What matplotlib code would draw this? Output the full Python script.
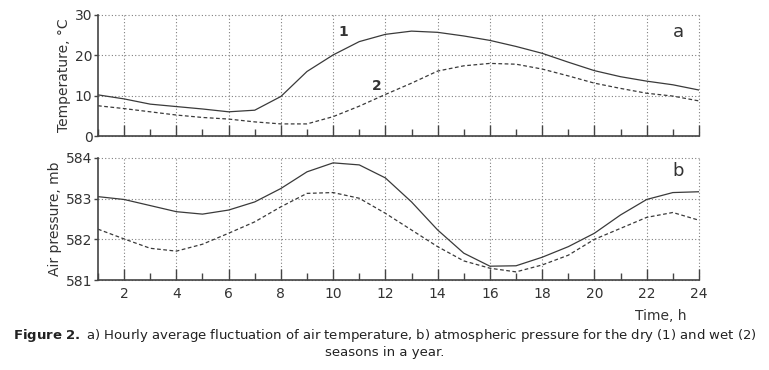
import matplotlib
matplotlib.use('Agg')
import matplotlib.pyplot as plt
import numpy as np

# hours of the day
hours = list(range(1, 25))

# air temperature, deg C
temp_dry = [10.2, 9.2, 7.9, 7.3, 6.7, 6.0, 6.4, 9.8, 16.0, 20.1, 23.4, 25.2,
            26.0, 25.7, 24.8, 23.7, 22.2, 20.5, 18.3, 16.2, 14.7, 13.6, 12.7, 11.4]
temp_wet = [7.5, 6.8, 6.0, 5.2, 4.6, 4.2, 3.5, 3.0, 3.0, 4.8, 7.4, 10.3,
            13.1, 16.1, 17.4, 18.0, 17.8, 16.6, 14.9, 13.1, 11.8, 10.6, 9.9, 8.7]

# air pressure, mb
pres_dry = [583.05, 582.98, 582.83, 582.68, 582.62, 582.72, 582.92, 583.25,
            583.66, 583.88, 583.83, 583.51, 582.92, 582.23, 581.66, 581.34,
            581.35, 581.56, 581.82, 582.15, 582.60, 582.98, 583.15, 583.17]
pres_wet = [582.25, 582.01, 581.78, 581.71, 581.88, 582.15, 582.43, 582.80,
            583.13, 583.15, 583.01, 582.64, 582.23, 581.82, 581.47, 581.29,
            581.20, 581.37, 581.61, 582.00, 582.27, 582.54, 582.66, 582.47]

major_x = list(range(2, 25, 2))
minor_x = list(range(1, 25, 2))

line_col = '#3a3a3a'
txt_col = '#333333'
plt.rcParams['font.family'] = ['DejaVu Sans']

fig = plt.figure(figsize=(7.69, 3.70), dpi=100)
ax1 = fig.add_axes([0.1274, 0.6324, 0.7815, 0.3271])
ax2 = fig.add_axes([0.1274, 0.2432, 0.7815, 0.3298])


def style(ax, labels):
    for s in ['top', 'right']:
        ax.spines[s].set_visible(False)
    for s in ['left', 'bottom']:
        ax.spines[s].set_color('#444444')
        ax.spines[s].set_linewidth(1.2)
    ax.set_xlim(1, 24)
    ax.set_xticks(major_x)
    ax.set_xticks(minor_x, minor=True)
    ax.tick_params(axis='x', which='major', direction='in', length=8,
                   width=1, color='#444444', labelsize=10, labelcolor=txt_col,
                   labelbottom=labels, pad=5)
    ax.tick_params(axis='x', which='minor', direction='in', length=5,
                   width=1, color='#444444')
    ax.tick_params(axis='y', direction='out', length=3, width=1,
                   color='#444444', labelsize=10, labelcolor=txt_col, pad=1)
    ax.grid(True, which='major', linestyle=(0, (1, 2)), color='#808080',
            linewidth=0.8)
    for g in ax.get_xgridlines() + ax.get_ygridlines():
        g.set_clip_on(False)


ax1.plot(hours, temp_dry, color=line_col, lw=0.9)
ax1.plot(hours, temp_wet, color=line_col, lw=0.9, ls=(0, (3, 2)))
ax1.set_ylim(0, 30)
ax1.set_yticks([0, 10, 20, 30])
style(ax1, False)
ax1.set_ylabel('Temperature, °C', fontsize=10, color=txt_col, labelpad=3)
ax1.text(10.2, 24.8, '1', fontsize=10, fontweight='bold', color=txt_col)
ax1.text(11.5, 11.5, '2', fontsize=10, fontweight='bold', color=txt_col)
ax1.text(23.0, 24.5, 'a', fontsize=13, color=txt_col)

ax2.plot(hours, pres_dry, color=line_col, lw=0.9)
ax2.plot(hours, pres_wet, color=line_col, lw=0.9, ls=(0, (3, 2)))
ax2.set_ylim(581, 584)
ax2.set_yticks([581, 582, 583, 584])
style(ax2, True)
ax2.set_ylabel('Air pressure, mb', fontsize=10, color=txt_col, labelpad=3)
ax2.text(23.0, 583.55, 'b', fontsize=13, color=txt_col)

fig.text(0.893, 0.145, 'Time, h', fontsize=10, color=txt_col, ha='right',
         va='center')

fig.text(0.5, 0.093, r'$\mathbf{Figure\ 2.}$ a) Hourly average fluctuation of air temperature, '
         'b) atmospheric pressure for the dry (1) and wet (2)',
         fontsize=9.5, color='#222222', ha='center', va='center')
fig.text(0.5, 0.047, 'seasons in a year.', fontsize=9.5, color='#222222',
         ha='center', va='center')

fig.savefig('out.png', dpi=100)
